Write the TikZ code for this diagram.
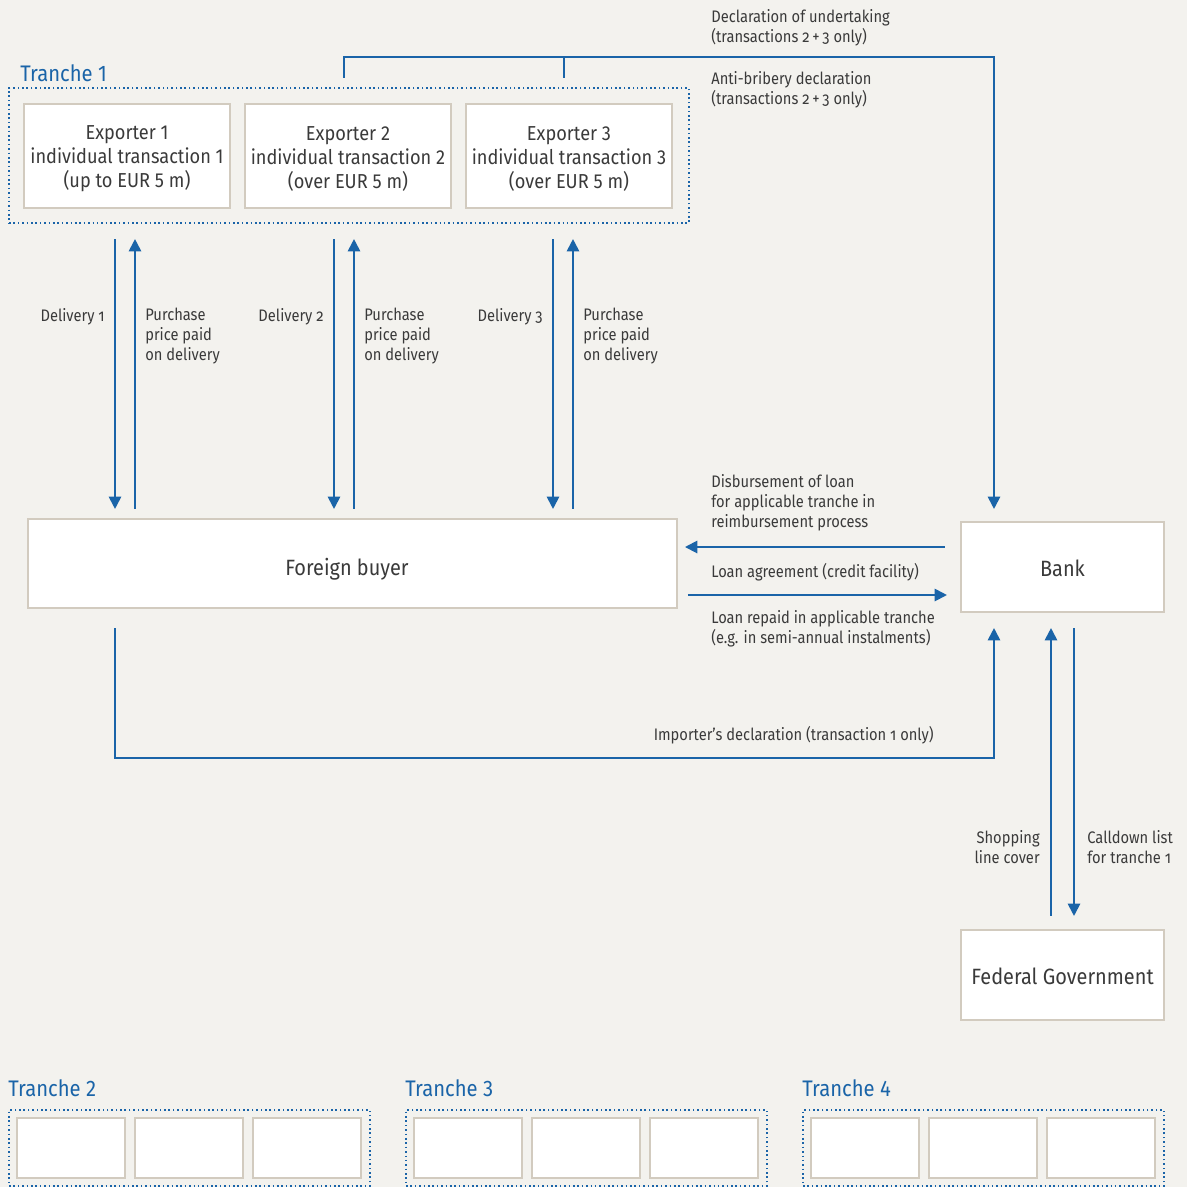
\documentclass[tikz,border=0pt]{standalone}
\usepackage{fontspec}
\setmainfont{Fira Sans}[FakeStretch=0.9]
\newfontfamily\lblfont{Fira Sans}[FakeStretch=0.88, Numbers=OldStyle]
\usetikzlibrary{arrows.meta, calc, positioning}
\definecolor{paper}{HTML}{F3F2EE}
\definecolor{kfwblue}{HTML}{1A64A8}
\definecolor{boxline}{HTML}{D2CBBF}
\definecolor{ink}{HTML}{3A3A3A}

\begin{document}
\begin{tikzpicture}[
    x=0.02cm, y=-0.02cm,
    % Box styles
    party/.style={draw=boxline, line width=1.2pt, fill=white, inner sep=0pt},
    exporter/.style={party, minimum width=4.12cm, minimum height=2.08cm},
    boxtext/.style={align=center, text=ink, font=\fontsize{11.5}{13.7}\selectfont, inner sep=0pt},
    partytext/.style={boxtext, font=\fontsize{12.6}{15}\selectfont},
    emptybox/.style={draw=boxline, line width=1.2pt, fill=white, minimum width=2.16cm, minimum height=1.2cm, inner sep=0pt},
    tranche/.style={draw=kfwblue, line width=0.9pt, dash pattern=on 0.9pt off 1.6pt, inner sep=0pt},
    tranchelabel/.style={anchor=base west, text=kfwblue, font=\fontsize{12.8}{15}\selectfont, inner sep=0pt},
    % Arrow styles
    wire/.style={draw=kfwblue, line width=1.1pt},
    flow/.style={wire, -{Triangle[length=7pt, width=7pt]}},
    % Label styles
    lbl/.style={text=ink, font=\lblfont\fontsize{9.5}{11.4}\selectfont, inner sep=0pt, align=left},
]

% Background
\useasboundingbox (0,0) rectangle (1187,1187);
\clip (0,0) rectangle (1187,1187);
\fill[paper] (0,0) rectangle (1187,1187);

% === TRANCHE 1 ===
\node[tranchelabel] (t1label) at (20,81) {Tranche 1};
\node[tranche, minimum width=13.6cm, minimum height=2.7cm] (t1) at (349,155.5) {};
\node[exporter] (exp1) at (127,156) {};
\node[boxtext] (exp1txt) at (127,159) {Exporter 1\\individual transaction 1\\(up to EUR 5 m)};
\node[exporter] (exp2) at (348,156) {};
\node[boxtext] (exp2txt) at (348,159) {Exporter 2\\individual transaction 2\\(over EUR 5 m)};
\node[exporter] (exp3) at (569,156) {};
\node[boxtext] (exp3txt) at (569,159) {Exporter 3\\individual transaction 3\\(over EUR 5 m)};

% === PARTIES ===
\node[party, minimum width=12.98cm, minimum height=1.78cm] (buyer) at (352.5,563.5) {};
\node[partytext] (buyertxt) at (347,569) {Foreign buyer};
\node[party, minimum width=4.06cm, minimum height=1.8cm] (bank) at (1062.5,567) {};
\node[partytext] (banktxt) at (1062.5,568.5) {Bank};
\node[party, minimum width=4.06cm, minimum height=1.8cm] (fed) at (1062.5,975) {};
\node[partytext] (fedtxt) at (1062.5,976.5) {Federal Government};

% Deliveries and payments
\foreach \e/\dn/\up/\n in {exp1/-12/8/1, exp2/-14/6/2, exp3/-16/4/3} {
    \draw[flow] ($(\e.south)+(\dn,30)$) -- ($(\e.south |- buyer.north)+(\dn,-9)$);
    \draw[flow] ($(\e.south |- buyer.north)+(\up,-9)$) -- ($(\e.south)+(\up,30)$);
    \node[lbl, anchor=north east] (dl\n) at ($(\e.south)+(\dn-10,99)$) {Delivery \n};
    \node[lbl, anchor=north west] (pp\n) at ($(\e.south)+(\up+10,99)$) {Purchase\\price paid\\on delivery};
}

% Declarations to bank
\draw[flow] ($(exp2.north)+(-4,-25)$) -- ++(0,-21) -| ($(bank.north)+(-68.5,-12)$);
\draw[wire] ($(exp3.north)+(-5,-25)$) -- ++(0,-21);
\node[lbl, anchor=north west] (undertaking) at (711,9) {Declaration of undertaking\\(transactions 2\,+\,3 only)};
\node[lbl, anchor=north west] (antibribery) at (711,71) {Anti-bribery declaration\\(transactions 2\,+\,3 only)};

% Loan between bank and buyer
\draw[flow] ($(bank.west)+(-15,-20)$) -- ($(buyer.east |- bank.west)+(7,-20)$);
\draw[flow] ($(buyer.east |- bank.west)+(10,28)$) -- ($(bank.west)+(-13,28)$);
\node[lbl, anchor=north west] (disburse) at (711,474) {Disbursement of loan\\for applicable tranche in\\reimbursement process};
\node[lbl, anchor=north west] (agreement) at (711,563) {Loan agreement (credit facility)};
\node[lbl, anchor=north west] (repaid) at (711,610) {Loan repaid in applicable tranche\\(e.g. in semi-annual instalments)};

% Importer's declaration
\draw[flow] ($(exp1.south |- buyer.south)+(-12,19)$) -- ++(0,130) -| ($(bank.south)+(-68.5,15)$);
\node[lbl, anchor=north east] (importer) at (934,726) {Importer’s declaration (transaction 1 only)};

% Bank and Federal Government
\draw[flow] ($(fed.north)+(-11.5,-13)$) -- ($(bank.south)+(-11.5,15)$);
\draw[flow] ($(bank.south)+(11.5,15)$) -- ($(fed.north)+(11.5,-13)$);
\node[lbl, anchor=north east, align=right] (shopping) at (1040,830) {Shopping\\line cover};
\node[lbl, anchor=north west] (calldown) at (1087,830) {Calldown list\\for tranche 1};

% === TRANCHES 2-4 ===
\foreach \i/\x in {2/8, 3/405, 4/802} {
    \node[tranchelabel] (t\i label) at (\x,1096) {Tranche \i};
    \node[tranche, minimum width=7.22cm, minimum height=1.52cm] (t\i) at (\x+181.5,1148) {};
    \node[emptybox] (t\i a) at (\x+63,1148) {};
    \node[emptybox] (t\i b) at (\x+181,1148) {};
    \node[emptybox] (t\i c) at (\x+299,1148) {};
}

\end{tikzpicture}
\end{document}
